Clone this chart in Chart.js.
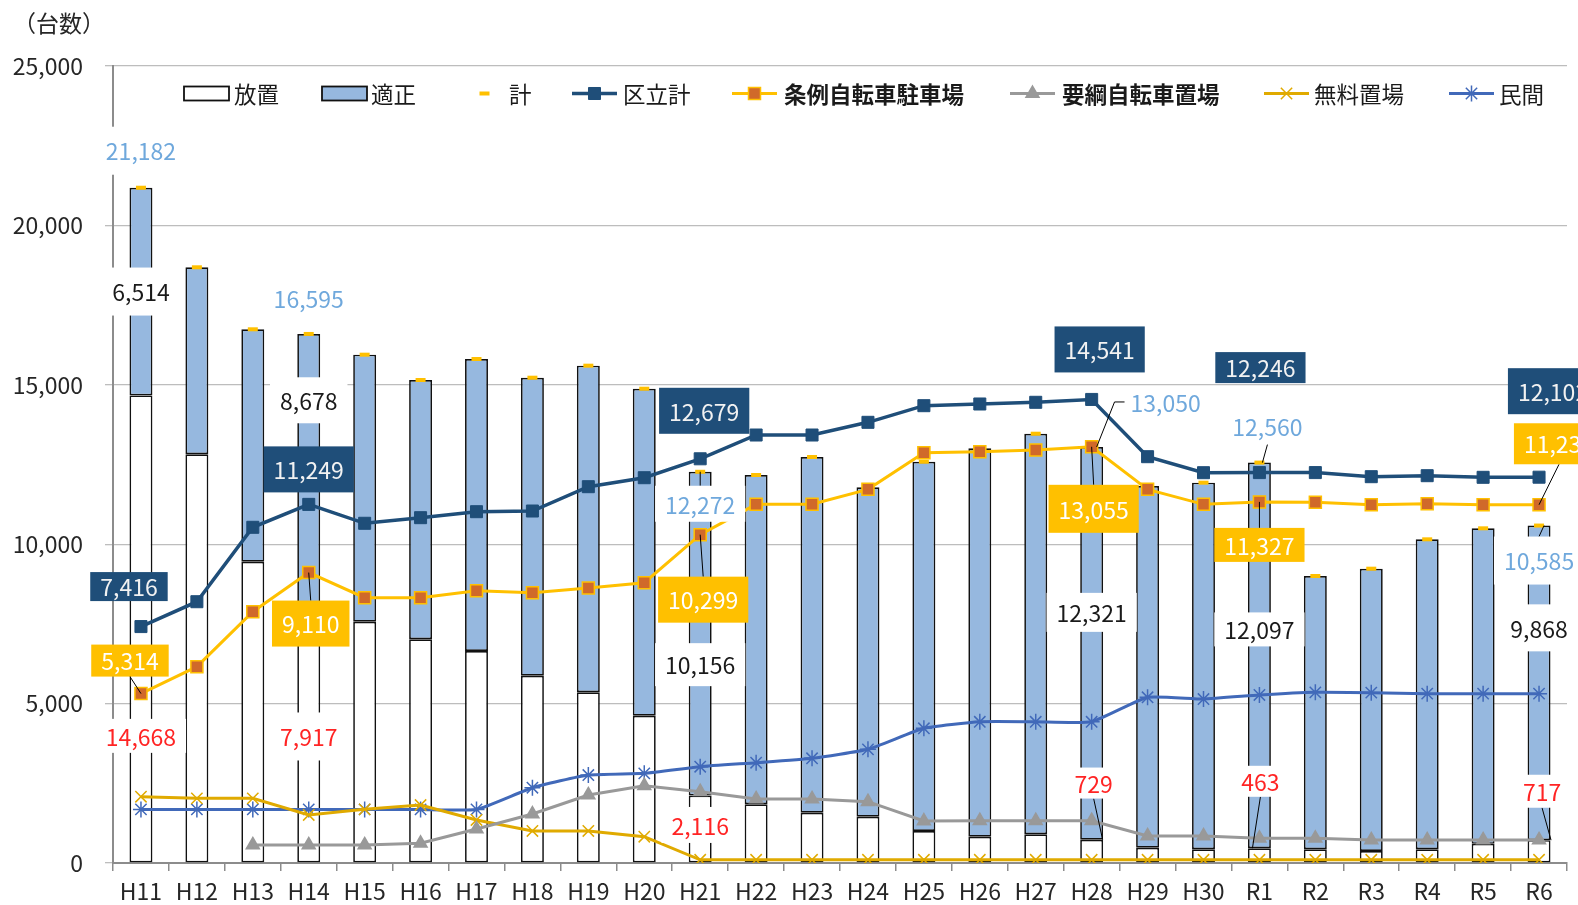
<!DOCTYPE html>
<html lang="ja">
<head>
<meta charset="utf-8">
<script src="https://cdn.jsdelivr.net/npm/chart.js@4.4.1/dist/chart.umd.min.js"></script>
<style>
html,body{margin:0;padding:0;background:#fff}
#wrap{position:relative;width:1578px;height:905px}
</style>
</head>
<body>
<div id="wrap"><canvas id="c" width="1578" height="905"></canvas></div>
<script>
// categories
const years=['H11','H12','H13','H14','H15','H16','H17','H18','H19','H20','H21','H22','H23','H24','H25','H26','H27','H28','H29','H30','R1','R2','R3','R4','R5','R6']

// bars
const houchi=[14668,12820,9451,7917,7569,7017,6650,5875,5354,4620,2116,1841,1578,1452,1004,825,900,729,480,430,463,430,376,430,600,717]
const tekisei=[6514,5866,7290,8678,8376,8134,9160,9348,10246,10258,10156,10330,11157,10333,11584,12183,12566,12321,11346,11500,12097,8573,8856,9723,9898,9868]
const kei=[21182,18686,16741,16595,15945,15151,15810,15223,15600,14878,12272,12171,12735,11785,12588,13008,13466,13050,11826,11930,12560,9003,9232,10153,10498,10585]

// lines
const kuritsu=[7416,8196,10530,11249,10656,10832,11020,11041,11804,12086,12679,13425,13425,13823,14345,14398,14451,14541,12745,12243,12246,12246,12118,12149,12098,12102]
const jorei=[5314,6158,7884,9110,8323,8323,8542,8479,8626,8793,10299,11251,11251,11721,12871,12900,12955,13055,11721,11250,11327,11313,11240,11270,11240,11237]
const youkou=[null,null,565,565,565,618,1066,1537,2133,2425,2237,2008,2008,1923,1317,1327,1327,1327,847,847,774,774,722,722,722,722]
const muryou=[2080,2029,2029,1506,1684,1819,1349,1004,1004,825,100,100,100,100,100,100,100,100,100,100,100,100,100,100,100,100]
const minkan=[1681,1681,1681,1681,1681,1681,1681,2362,2760,2813,3021,3146,3284,3566,4225,4430,4430,4430,5198,5144,5270,5354,5343,5311,5311,5311]

const yTicks=[0,5000,10000,15000,20000,25000]

const FONT='"Noto Sans CJK JP","Noto Sans",sans-serif'
Chart.defaults.font.family=FONT

// label specs: series, index, dx, dy, box height (0 = no box), leader side, leader target dx
const labelSpecs=[
['kei',0,0,-37,48],
['kei',3,0,-36,0],
['kei',10,0,32,36,'t',0],
['kei',17,74,-45,0,'l',5],
['kei',20,8,-36,0,'b',3],
['kei',25,0,35,48,'t',5],
['tekisei',0,0,0,48],
['tekisei',3,0,-72,46],
['tekisei',10,0,31,43],
['tekisei',17,0,-31,39],
['tekisei',20,0,-26,34],
['tekisei',25,0,-55,47],
['houchi',0,0,107,34],
['houchi',3,0,0,48],
['houchi',10,0,-4,36],
['houchi',17,2,-68,31,'b',11],
['houchi',20,1,-74,31,'b',-7],
['houchi',25,3,-60,33,'b',12],
['kuritsu',0,-12,-40,29],
['kuritsu',3,0,-35,46],
['kuritsu',10,4,-48,46],
['kuritsu',17,8,-50,46],
['kuritsu',20,1,-105,31],
['kuritsu',25,14,-86,46],
['jorei',0,-11,-33,32,'b',0],
['jorei',3,2,51,46,'t',0],
['jorei',10,3,65,46,'t',0],
['jorei',17,2,62,48,'t',0],
['jorei',20,0,43,34,'t',0],
['jorei',25,20,-61,41,'b',0]
]

const labelStyle={
kei:{color:'#6FA8DC',bg:'#ffffff'},
tekisei:{color:'#1a1a1a',bg:'#ffffff'},
houchi:{color:'#FF2424',bg:'#ffffff'},
kuritsu:{color:'#F2F2F2',bg:'#1F4E79'},
jorei:{color:'#FFFFFF',bg:'#FFC000'}
}

// legend symbol start x, text start x
const legendPos=[[184,234],[322,371],[462,509],[572,623],[732,784],[1010,1062],[1264,1314],[1449,1499]]

const fmt=v=>v.toLocaleString('en-US')

const labelPlugin={
id:'valueLabels',
afterDraw(chart){
const ctx=chart.ctx
const byKey={}
chart.data.datasets.forEach((d,i)=>byKey[d.key]=i)
ctx.save()
ctx.font='23px '+FONT
const items=labelSpecs.map(s=>{
const [key,idx,dx,dy,h,side,tdx]=s
const di=byKey[key]
const el=chart.getDatasetMeta(di).data[idx]
const c=el.getCenterPoint()
const text=fmt(chart.data.datasets[di].data[idx])
const w=ctx.measureText(text).width+20
return {key,text,cx:c.x+dx,cy:c.y+dy,w,h,side,tx:el.x+(tdx||0),ty:el.y}
})
// leaders
ctx.strokeStyle='#000'
ctx.lineWidth=1
items.forEach(it=>{
if(!it.side)return
const hh=(it.h||36)/2
ctx.beginPath()
if(it.side==='t'){ctx.moveTo(it.cx,it.cy-hh);ctx.lineTo(it.tx,it.ty)}
else if(it.side==='b'){ctx.moveTo(it.cx,it.cy+hh);ctx.lineTo(it.tx,it.ty)}
else{const lx=it.cx-it.w/2+4;ctx.moveTo(lx,it.cy);ctx.lineTo(lx-10,it.cy);ctx.lineTo(it.tx,it.ty)}
ctx.stroke()
})
// boxes and text
items.forEach(it=>{
const st=labelStyle[it.key]
if(it.h){
ctx.fillStyle=st.bg
ctx.fillRect(it.cx-it.w/2,it.cy-it.h/2,it.w,it.h)
}
ctx.fillStyle=st.color
ctx.textAlign='center'
ctx.textBaseline='middle'
ctx.fillText(it.text,it.cx,it.cy+1)
})
ctx.restore()
}
}

const legendPlugin={
id:'legendDraw',
afterDraw(chart){
const ctx=chart.ctx
const y=93.5
ctx.save()
chart.data.datasets.forEach((ds,i)=>{
const [sx,tx]=legendPos[i]
if(ds.type==='bar'){
ctx.fillStyle=ds.backgroundColor
ctx.strokeStyle='#111'
ctx.lineWidth=1.8
ctx.fillRect(sx,y-7,45,14)
ctx.strokeRect(sx,y-7,45,14)
}else{
if(ds.showLine!==false){
ctx.strokeStyle=ds.borderColor
ctx.lineWidth=ds.borderWidth
ctx.beginPath();ctx.moveTo(sx,y);ctx.lineTo(sx+45,y);ctx.stroke()
}
ctx.fillStyle=ds.pointBackgroundColor
ctx.strokeStyle=ds.pointBorderColor
ctx.lineWidth=ds.pointBorderWidth
Chart.helpers.drawPoint(ctx,{pointStyle:ds.pointStyle,radius:ds.pointRadius,rotation:0,borderWidth:ds.pointBorderWidth},sx+22.5,y)
}
ctx.fillStyle='#1a1a1a'
ctx.font=(ds.legendBold?'bold ':'')+'22.5px '+FONT
ctx.textAlign='left'
ctx.textBaseline='middle'
ctx.fillText(ds.label,tx,y+1)
})
// unit label
ctx.font='23px '+FONT
ctx.textAlign='center'
ctx.fillStyle='#262626'
ctx.fillText('（台数）',59,23)
ctx.restore()
}
}

function lineSet(key,label,data,color,style,radius,extra){
return Object.assign({
type:'line',key,label,data,stack:key,order:1,
borderColor:color,borderWidth:3,tension:0,
pointStyle:style,pointRadius:radius,pointHoverRadius:radius,
pointBackgroundColor:color,pointBorderColor:color,pointBorderWidth:1.5
},extra||{})
}

new Chart(document.getElementById('c'),{
type:'bar',
data:{
labels:years,
datasets:[
{type:'bar',key:'houchi',label:'放置',data:houchi,stack:'bar',order:10,backgroundColor:'#FFFFFF',borderColor:'#111',borderWidth:1.7,borderSkipped:false,barPercentage:0.41,categoryPercentage:1},
{type:'bar',key:'tekisei',label:'適正',data:tekisei,stack:'bar',order:10,backgroundColor:'#96B8DF',borderColor:'#111',borderWidth:1.7,borderSkipped:false,barPercentage:0.41,categoryPercentage:1},
lineSet('kei','計',kei,'#FFC000','line',5,{showLine:false,pointBorderWidth:4,order:5}),
lineSet('kuritsu','区立計',kuritsu,'#1F4E79','rect',8.5,{borderWidth:3.5,pointBorderWidth:1}),
lineSet('jorei','条例自転車駐車場',jorei,'#FFC000','rect',8.5,{pointBackgroundColor:'#D0692A',pointBorderColor:'#FFC000',legendBold:true}),
lineSet('youkou','要綱自転車置場',youkou,'#999999','triangle',7.5,{order:2,legendBold:true}),
lineSet('muryou','無料置場',muryou,'#E0AA00','crossRot',8,{order:2}),
lineSet('minkan','民間',minkan,'#4169B9','star',8,{order:2,tension:0.15})
]
},
options:{
responsive:false,
animation:false,
devicePixelRatio:1,
layout:{padding:{left:0,right:11,top:66,bottom:0}},
plugins:{legend:{display:false},tooltip:{enabled:false}},
scales:{
x:{
stacked:true,
offset:true,
grid:{display:true,offset:true,drawOnChartArea:false,drawTicks:true,tickLength:8,color:'#8C8C8C',lineWidth:1.5},
border:{color:'#8C8C8C',width:2},
ticks:{color:'#262626',font:{size:23},padding:6,maxRotation:0,autoSkip:false},
afterFit(s){s.height=42}
},
y:{
stacked:true,
min:0,max:25000,
afterBuildTicks(s){s.ticks=yTicks.map(v=>({value:v}))},
grid:{color:'#BDBDBD',lineWidth:1.3,tickLength:8},
border:{color:'#8C8C8C',width:2},
ticks:{color:'#262626',font:{size:23},padding:22,callback:v=>fmt(v)},
afterFit(s){s.width=113}
}
}
},
plugins:[labelPlugin,legendPlugin]
})
</script>
</body>
</html>
